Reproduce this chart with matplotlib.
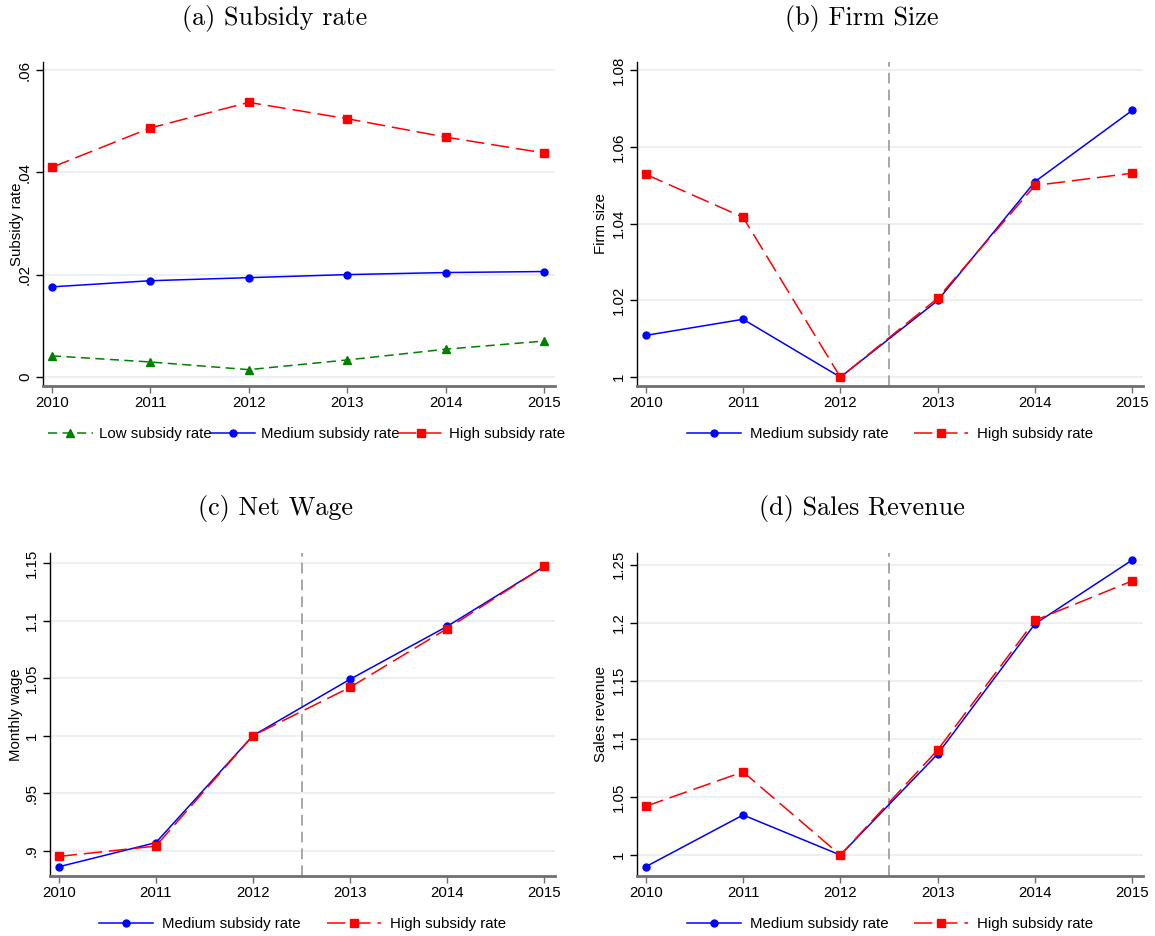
import numpy as np
import matplotlib
matplotlib.use("Agg")
import matplotlib.pyplot as plt

plt.rcParams['font.family'] = ['Liberation Sans', 'DejaVu Sans']

years = [2010, 2011, 2012, 2013, 2014, 2015]

# subsidy rate by group
subsidy_low = [0.0041, 0.0029, 0.0014, 0.0033, 0.0054, 0.0070]
subsidy_med = [0.0176, 0.0188, 0.0194, 0.0200, 0.0204, 0.0206]
subsidy_high = [0.0410, 0.0487, 0.0537, 0.0505, 0.0469, 0.0438]

# firm size (2012 = 1)
size_med = [1.0109, 1.0151, 1.0, 1.0200, 1.0510, 1.0696]
size_high = [1.0529, 1.0417, 1.0, 1.0206, 1.0500, 1.0532]

# monthly wage (2012 = 1)
wage_med = [0.886, 0.907, 1.0, 1.049, 1.095, 1.147]
wage_high = [0.895, 0.904, 1.0, 1.042, 1.093, 1.147]

# sales revenue (2012 = 1)
rev_med = [0.990, 1.0345, 1.0, 1.087, 1.199, 1.254]
rev_high = [1.042, 1.0716, 1.0, 1.0905, 1.202, 1.236]

fig = plt.figure(figsize=(11.55, 9.36), dpi=100)

W, H = 1155, 936
def add_axes(l, r, t, b):
    return fig.add_axes([l / W, 1 - b / H, (r - l) / W, (b - t) / H])

ax_a = add_axes(43, 555, 62, 386)
ax_b = add_axes(637, 1143, 62, 386)
ax_c = add_axes(50, 555, 553, 876)
ax_d = add_axes(637, 1143, 553, 876)

BLUE = '#0000ff'
RED = '#ff0000'
GREEN = '#008000'
GRID = '#e8eff2'

def style(ax, yticks, ylabels, ylim, ylabel, label_x):
    ax.set_xlim(2009.91, 2015.11)
    ax.set_ylim(*ylim)
    ax.set_xticks(years)
    ax.set_xticklabels([str(y) for y in years], fontsize=10.8)
    ax.set_yticks(yticks)
    ax.set_yticklabels(ylabels, fontsize=10.8, rotation=90, va='center')
    for y in yticks:
        ax.axhline(y, color=GRID, lw=1.3, zorder=0)
    for s in ['top', 'right']:
        ax.spines[s].set_visible(False)
    ax.spines['left'].set_color('black')
    ax.spines['left'].set_linewidth(1.0)
    ax.spines['bottom'].set_color('#707070')
    ax.spines['bottom'].set_linewidth(2.0)
    ax.tick_params(axis='y', direction='out', length=5, width=1, color='black', pad=3)
    ax.tick_params(axis='x', direction='out', length=5, width=1, color='#707070', pad=2)
    ax.set_ylabel(ylabel, fontsize=10.8)
    ax.yaxis.set_label_coords(label_x, 0.5)

def med_line(ax, vals):
    return ax.plot(years, vals, color=BLUE, lw=1.1, marker='o', ms=5,
                   label='Medium subsidy rate', zorder=3)[0]

def high_line(ax, vals):
    return ax.plot(years, vals, color=RED, lw=1.1, ls=(0, (12, 4.5)), marker='s',
                   ms=5.8, label='High subsidy rate', zorder=4)[0]

def vline(ax):
    ax.axvline(2012.5, color='#909090', lw=1.1, ls=(0, (7, 4)), zorder=1)

# (a) subsidy rate
ax_a.plot(years, subsidy_low, color=GREEN, lw=1.1, ls=(0, (6, 3.5)), marker='^',
          ms=5.8, label='Low subsidy rate', zorder=3)
med_line(ax_a, subsidy_med)
high_line(ax_a, subsidy_high)
style(ax_a, [0, 0.02, 0.04, 0.06], ['0', '.02', '.04', '.06'],
      (-0.0018, 0.0616), 'Subsidy rate', -0.038)
ax_a.legend(loc='upper center', bbox_to_anchor=(0.515, -0.085), ncol=3, frameon=False,
            fontsize=10.8, handlelength=3.0, handletextpad=0.4, columnspacing=-0.1)

# (b) firm size
vline(ax_b)
med_line(ax_b, size_med)
high_line(ax_b, size_high)
style(ax_b, [1, 1.02, 1.04, 1.06, 1.08], ['1', '1.02', '1.04', '1.06', '1.08'],
      (0.9977, 1.0822), 'Firm size', -0.057)
ax_b.legend(loc='upper center', bbox_to_anchor=(0.5, -0.085), ncol=2, frameon=False,
            fontsize=10.8, handlelength=3.6, handletextpad=0.6, columnspacing=1.7)

# (c) net wage
vline(ax_c)
med_line(ax_c, wage_med)
high_line(ax_c, wage_high)
style(ax_c, [0.9, 0.95, 1, 1.05, 1.1, 1.15], ['.9', '.95', '1', '1.05', '1.1', '1.15'],
      (0.878, 1.1587), 'Monthly wage', -0.053)
ax_c.legend(loc='upper center', bbox_to_anchor=(0.5, -0.085), ncol=2, frameon=False,
            fontsize=10.8, handlelength=3.6, handletextpad=0.6, columnspacing=1.7)

# (d) sales revenue
vline(ax_d)
med_line(ax_d, rev_med)
high_line(ax_d, rev_high)
style(ax_d, [1, 1.05, 1.1, 1.15, 1.2, 1.25], ['1', '1.05', '1.1', '1.15', '1.2', '1.25'],
      (0.982, 1.26), 'Sales revenue', -0.057)
ax_d.legend(loc='upper center', bbox_to_anchor=(0.5, -0.085), ncol=2, frameon=False,
            fontsize=10.8, handlelength=3.6, handletextpad=0.6, columnspacing=1.7)

# panel titles
for x, y, t in [(275, 18, '(a) Subsidy rate'), (862, 18, '(b) Firm Size'),
                (275, 508, '(c) Net Wage'), (862, 508, '(d) Sales Revenue')]:
    fig.text(x / W, 1 - y / H, t, ha='center', va='center', fontsize=18.8,
             family='cmr10')

fig.savefig('out.png', dpi=100)
